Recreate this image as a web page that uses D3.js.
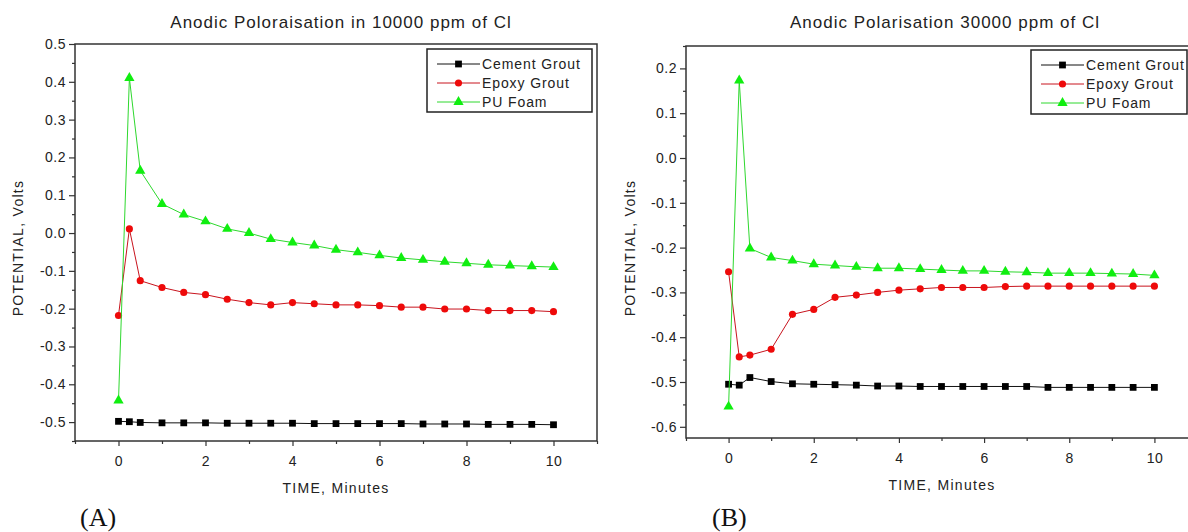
<!DOCTYPE html>
<html lang="en">
<head>
    <meta charset="UTF-8">
    <title>Anodic Polarisation</title>
    <style>
        body { margin: 0; background: #fff; }
        svg { display: block; font-family: "Liberation Sans", Arial, sans-serif; }
        .frame { fill: none; stroke: #333; stroke-width: 1.5px; }
        .axis path { display: none; }
        .axis line { stroke: #333; stroke-width: 1.2px; }
        .axis text { font-size: 14px; fill: #222; letter-spacing: 0.5px; }
        .chart-title { font-size: 17px; fill: #222; text-anchor: middle; letter-spacing: 1px; }
        .axis-label { font-size: 14px; fill: #222; text-anchor: middle; letter-spacing: 1.3px; }
        .legend-box { fill: #fff; stroke: #222; stroke-width: 1.5px; }
        .legend text { font-size: 14px; fill: #222; letter-spacing: 0.9px; }
        .panel-tag { font-family: "Liberation Serif", "Times New Roman", serif; font-size: 26px; fill: #111; }
        .series { fill: none; stroke-width: 1px; }
    </style>
</head>
<body>
    <svg id="chart" width="1188" height="532"></svg>

    <script src="https://d3js.org/d3.v7.min.js"></script>
    <script>
        // --- Data ---
        const times = [0, 0.25, 0.5, 1, 1.5, 2, 2.5, 3, 3.5, 4, 4.5, 5, 5.5, 6, 6.5, 7, 7.5, 8, 8.5, 9, 9.5, 10];
        const seriesNames = ["Cement Grout", "Epoxy Grout", "PU Foam"];

        // (A) 10000 ppm
        const cementA = [-0.498, -0.499, -0.501, -0.502, -0.502, -0.502, -0.503, -0.503, -0.503, -0.503, -0.504,
                         -0.504, -0.504, -0.504, -0.504, -0.505, -0.505, -0.505, -0.506, -0.506, -0.506, -0.507];
        const epoxyA = [-0.218, 0.011, -0.126, -0.144, -0.157, -0.163, -0.175, -0.184, -0.190, -0.184, -0.187,
                        -0.190, -0.190, -0.192, -0.196, -0.196, -0.201, -0.201, -0.205, -0.205, -0.205, -0.208];
        const puA = [-0.443, 0.410, 0.165, 0.077, 0.049, 0.031, 0.011, 0.000, -0.016, -0.025, -0.033,
                     -0.044, -0.051, -0.059, -0.066, -0.071, -0.076, -0.080, -0.084, -0.086, -0.088, -0.090];

        // (B) 30000 ppm
        const cementB = [-0.505, -0.507, -0.490, -0.499, -0.504, -0.505, -0.506, -0.507, -0.509, -0.509, -0.510,
                         -0.510, -0.510, -0.510, -0.510, -0.510, -0.512, -0.512, -0.512, -0.512, -0.512, -0.512];
        const epoxyB = [-0.254, -0.444, -0.440, -0.427, -0.349, -0.338, -0.311, -0.306, -0.300, -0.295, -0.292,
                        -0.289, -0.289, -0.289, -0.287, -0.286, -0.286, -0.286, -0.286, -0.286, -0.286, -0.286];
        const puB = [-0.555, 0.173, -0.202, -0.222, -0.229, -0.237, -0.240, -0.243, -0.246, -0.246, -0.248,
                     -0.250, -0.252, -0.252, -0.254, -0.255, -0.257, -0.257, -0.257, -0.258, -0.259, -0.262];

        // Ticks
        const xDomain = [-1, 11];
        const xMajor = [0, 2, 4, 6, 8, 10];
        const xMinor = [-1, 1, 3, 5, 7, 9, 11];
        const yDomainA = [-0.55, 0.5];
        const yMajorA = [-0.5, -0.4, -0.3, -0.2, -0.1, 0.0, 0.1, 0.2, 0.3, 0.4, 0.5];
        const yMinorA = [-0.55, -0.45, -0.35, -0.25, -0.15, -0.05, 0.05, 0.15, 0.25, 0.35, 0.45];
        const yDomainB = [-0.625, 0.25];
        const yMajorB = [-0.6, -0.5, -0.4, -0.3, -0.2, -0.1, 0.0, 0.1, 0.2];
        const yMinorB = [-0.55, -0.45, -0.35, -0.25, -0.15, -0.05, 0.05, 0.15, 0.25];

        // --- Styling per series ---
        const lineColors = ["#111", "#c8141e", "#2ed82e"];
        const markColors = ["#000", "#ee0a0a", "#10ee10"];
        const symbols = [d3.symbolSquare, d3.symbolCircle, d3.symbolTriangle];
        const symbolSizes = [46, 40, 46];

        const fmt = v => v.toFixed(1);
        const svg = d3.select("#chart");

        function drawPanel(p) {
            const x = d3.scaleLinear().domain(xDomain).range([p.left, p.right]);
            const y = d3.scaleLinear().domain(p.yDomain).range([p.bottom, p.top]);
            const g = svg.append("g");

            // axes: major + minor ticks, no domain path (frame drawn separately)
            g.append("g").attr("class", "axis")
                .attr("transform", `translate(0,${p.bottom})`)
                .call(d3.axisBottom(x).tickValues(xMajor).tickSize(5).tickPadding(10).tickFormat(d3.format("d")));
            g.append("g").attr("class", "axis")
                .attr("transform", `translate(0,${p.bottom})`)
                .call(d3.axisBottom(x).tickValues(xMinor).tickSize(3).tickFormat(""));
            g.append("g").attr("class", "axis")
                .attr("transform", `translate(${p.left},0)`)
                .call(d3.axisLeft(y).tickValues(p.yMajor).tickSize(6).tickPadding(3).tickFormat(fmt));
            g.append("g").attr("class", "axis")
                .attr("transform", `translate(${p.left},0)`)
                .call(d3.axisLeft(y).tickValues(p.yMinor).tickSize(3).tickFormat(""));

            g.append("rect").attr("class", "frame")
                .attr("x", p.left).attr("y", p.top)
                .attr("width", p.right - p.left).attr("height", p.bottom - p.top);

            // series
            const line = d3.line().x((d, i) => x(times[i])).y(d => y(d));
            p.series.forEach((vals, k) => {
                g.append("path").datum(vals)
                    .attr("class", "series")
                    .attr("stroke", lineColors[k])
                    .attr("d", line);
                g.selectAll(null).data(vals).enter().append("path")
                    .attr("transform", (d, i) => `translate(${x(times[i])},${y(d)})`)
                    .attr("d", d3.symbol().type(symbols[k]).size(symbolSizes[k]))
                    .attr("fill", markColors[k]);
            });

            // legend
            const lg = g.append("g").attr("class", "legend");
            lg.append("rect").attr("class", "legend-box")
                .attr("x", p.legend.x).attr("y", p.legend.y)
                .attr("width", p.legend.w).attr("height", p.legend.h);
            seriesNames.forEach((name, k) => {
                const ry = p.legend.y + 15 + k * 19;
                const lx = p.legend.x + 10;
                lg.append("line").attr("x1", lx).attr("x2", lx + 43)
                    .attr("y1", ry).attr("y2", ry)
                    .attr("stroke", lineColors[k]).attr("stroke-width", 1);
                lg.append("path")
                    .attr("transform", `translate(${lx + 21.5},${ry})`)
                    .attr("d", d3.symbol().type(symbols[k]).size(symbolSizes[k]))
                    .attr("fill", markColors[k]);
                lg.append("text").attr("x", lx + 45).attr("y", ry).attr("dy", "0.36em").text(name);
            });

            // titles
            g.append("text").attr("class", "chart-title")
                .attr("x", p.titleX).attr("y", 28).text(p.title);
            g.append("text").attr("class", "axis-label")
                .attr("x", p.xLabelX).attr("y", p.xLabelY).text("TIME, Minutes");
            g.append("text").attr("class", "axis-label")
                .attr("transform", `translate(${p.yLabelX},248) rotate(-90)`)
                .attr("dy", "0.36em").text("POTENTIAL, Volts");
            g.append("text").attr("class", "panel-tag")
                .attr("x", p.tagX).attr("y", 526).text(p.tag);
        }

        drawPanel({
            left: 75, right: 597, top: 44, bottom: 441,
            yDomain: yDomainA, yMajor: yMajorA, yMinor: yMinorA,
            series: [cementA, epoxyA, puA],
            legend: { x: 427, y: 49, w: 165, h: 63 },
            title: "Anodic Poloraisation in 10000 ppm of Cl", titleX: 341,
            xLabelX: 336, xLabelY: 493, yLabelX: 18,
            tag: "(A)", tagX: 80
        });

        drawPanel({
            left: 686, right: 1197, top: 46, bottom: 438,
            yDomain: yDomainB, yMajor: yMajorB, yMinor: yMinorB,
            series: [cementB, epoxyB, puB],
            legend: { x: 1031, y: 50, w: 156, h: 64 },
            title: "Anodic Polarisation 30000 ppm of Cl", titleX: 945,
            xLabelX: 942, xLabelY: 490, yLabelX: 630,
            tag: "(B)", tagX: 712
        });
    </script>
</body>
</html>
